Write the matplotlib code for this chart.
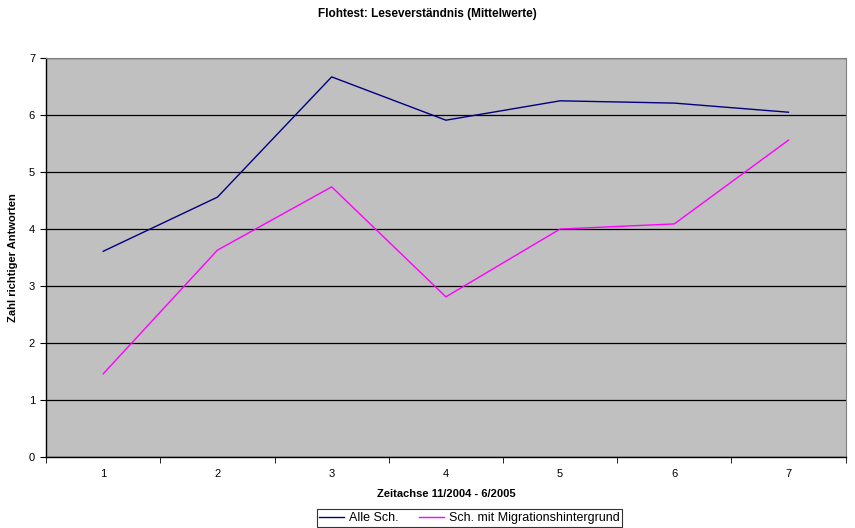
import matplotlib
matplotlib.use("Agg")
import matplotlib.pyplot as plt
import numpy as np

plt.rcParams["font.family"] = ["Liberation Sans", "DejaVu Sans"]

# Daten (Mittelwerte)
zeitpunkte = [1, 2, 3, 4, 5, 6, 7]
alle_sch = [3.61, 4.56, 6.67, 5.91, 6.25, 6.21, 6.05]
migration = [1.46, 3.63, 4.74, 2.81, 4.00, 4.09, 5.56]

fig = plt.figure(figsize=(8.55, 5.28), dpi=100)
ax = fig.add_axes([0.054, 0.1345, 0.935, 0.7555])
ax.set_facecolor("#c0c0c0")

ax.plot(zeitpunkte, alle_sch, color="#000080", linewidth=1, label="Alle Sch.")
ax.plot(zeitpunkte, migration, color="#ff00ff", linewidth=1,
        label="Sch. mit Migrationshintergrund")

ax.set_xlim(0.5, 7.5)
ax.set_ylim(0, 7)
ax.set_yticks(range(0, 8))
ax.yaxis.grid(True, color="black", linewidth=0.9)
ax.set_axisbelow(True)

# Kategorien-Achse: Beschriftung mittig, Striche an den Grenzen
ax.set_xticks(zeitpunkte)
ax.set_xticks(np.arange(0.5, 8.0, 1.0), minor=True)
ax.tick_params(axis="x", which="major", length=0, pad=9)
ax.tick_params(axis="x", which="minor", length=4, direction="out", color="black")
ax.tick_params(axis="y", length=4, direction="out", pad=4)
ax.tick_params(labelsize=8)

for s in ["top", "right"]:
    ax.spines[s].set_color("#808080")
for s in ["left", "bottom"]:
    ax.spines[s].set_color("black")
    ax.spines[s].set_linewidth(1.0)

ax.set_xlabel("Zeitachse 11/2004 - 6/2005", fontsize=8, fontweight="bold", labelpad=7)
ax.set_ylabel("Zahl richtiger Antworten", fontsize=8, fontweight="bold", labelpad=8)
fig.suptitle("Flohtest: Leseverständnis (Mittelwerte)", fontsize=8.5,
             fontweight="bold", y=0.985)

leg = fig.legend(loc="lower center", bbox_to_anchor=(0.549, 0.0), ncol=2,
                 fontsize=9, frameon=True, fancybox=False, edgecolor="black",
                 handlelength=2.0, handletextpad=0.4, columnspacing=1.6,
                 borderpad=0.22, borderaxespad=0.1)
leg.get_frame().set_linewidth(0.8)

fig.savefig("out.png", dpi=100)
